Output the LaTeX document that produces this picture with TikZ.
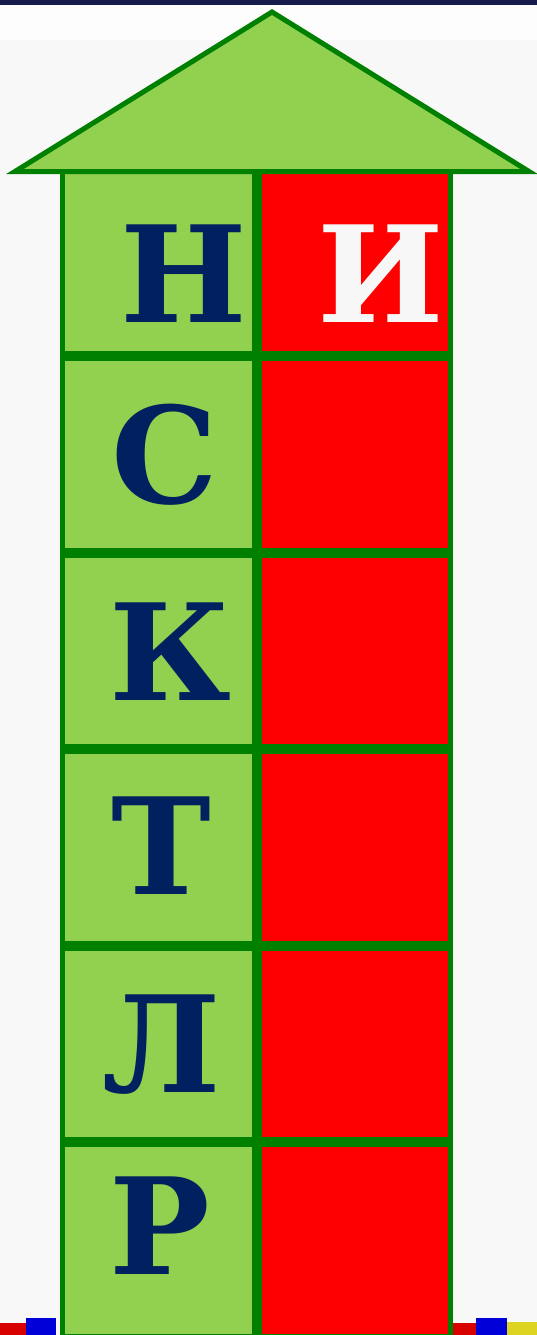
\documentclass[tikz,border=0pt]{standalone}
\usepackage{fontspec}
\setmainfont{DejaVu Serif}
\usepackage{xcolor}
\usepackage{tikz}
\usetikzlibrary{positioning}
\definecolor{leafgreen}{HTML}{92D050}
\definecolor{edgegreen}{HTML}{008000}
\definecolor{cellred}{HTML}{FF0000}
\definecolor{inknavy}{HTML}{002060}
\definecolor{paper}{HTML}{F8F8F8}
\definecolor{paperlight}{HTML}{FDFDFD}
\definecolor{topband}{HTML}{161B4C}
\definecolor{snowy}{HTML}{F7F7F7}

\begin{document}
\begin{tikzpicture}[x=1pt, y=-1pt,
    cell/.style={draw=edgegreen, line width=5pt, inner sep=0pt,
                 minimum width=191.7pt, minimum height=191.5pt},
    glyph/.style={inner sep=0pt, text=inknavy,
                  font=\fontsize{134}{134}\selectfont\bfseries}]
    % page and its frame bits
    \fill[paper] (0,0) rectangle (537,1335);
    \useasboundingbox (0,0) rectangle (537,1335);
    \fill[paperlight] (0,5) rectangle (537,40);
    \fill[topband] (0,0) rectangle (537,5);
    \fill[red!85!black] (0,1323) rectangle (26,1335);
    \fill[blue!85!black] (26,1318) rectangle (56,1335);
    \fill[red!85!black] (452,1323) rectangle (476,1335);
    \fill[blue!85!black] (476,1318) rectangle (507,1335);
    \fill[yellow!85!black] (507,1322) rectangle (537,1335);
    % column of cells
    \foreach \k in {1,...,6} {
        \node[cell, fill=leafgreen] (left\k) at (158.4,{257.75+196.5*(\k-1)}) {};
        \node[cell, fill=cellred, right=0pt of left\k] (right\k) {};
    }
    % arrow head
    \draw[fill=leafgreen, draw=edgegreen, line width=5pt, line join=miter]
        (272,12) -- (15,171.5) -- (529,171.5) -- cycle;
    % letters
    \node[glyph] (letterN) at (184,274) {Н};
    \node[glyph, text=snowy] (letterI) at (381,274) {И};
    \node[glyph] (letterS) at (165,455) {С};
    \node[glyph] (letterK) at (170,652) {К};
    \node[glyph] (letterT) at (161,846) {Т};
    \node[glyph] (letterL) at (162,1045) {Л};
    \node[glyph] (letterR) at (160,1226) {Р};
\end{tikzpicture}
\end{document}
